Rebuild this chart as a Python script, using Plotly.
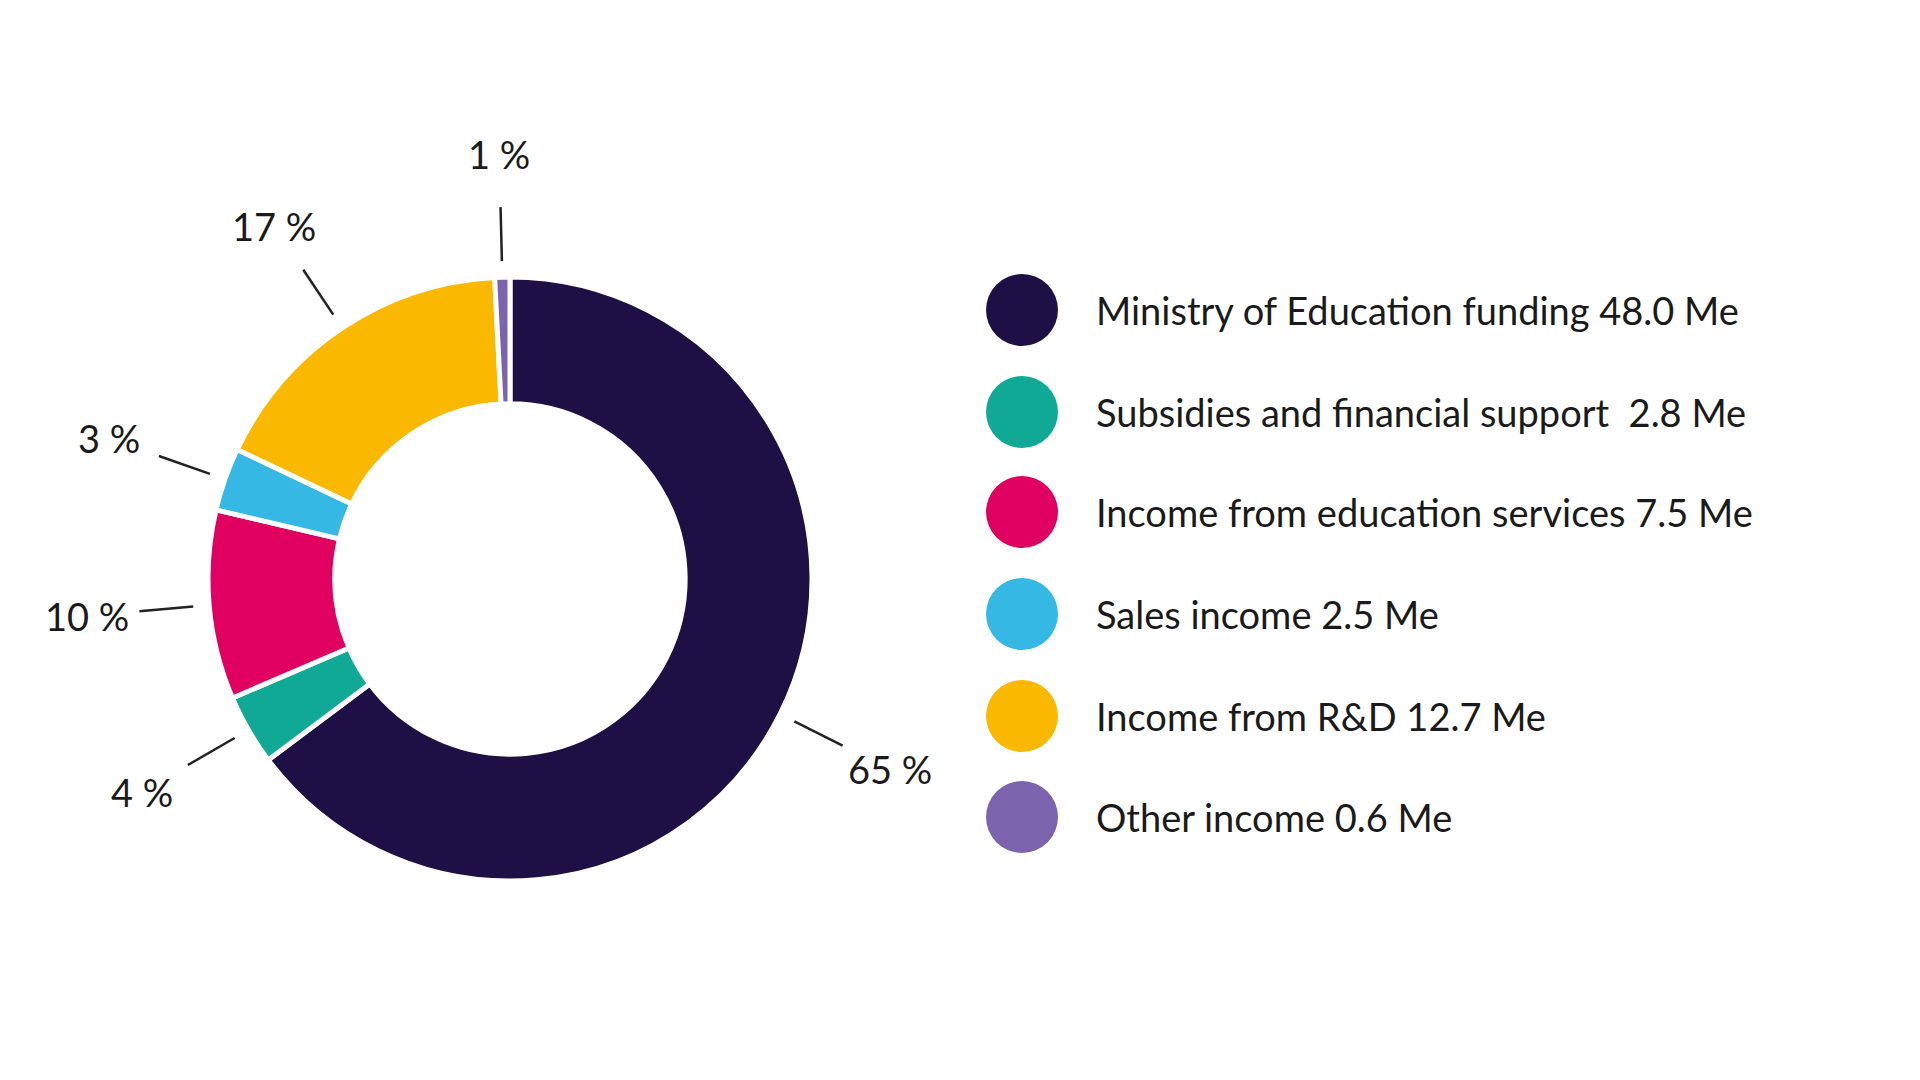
import numpy as np
import plotly.graph_objects as go

categories = ["Ministry of Education funding 48.0 Me",
              "Subsidies and financial support  2.8 Me",
              "Income from education services 7.5 Me",
              "Sales income 2.5 Me",
              "Income from R&D 12.7 Me",
              "Other income 0.6 Me"]
values = [48.0, 2.8, 7.5, 2.5, 12.7, 0.6]
colors = ["#1e0f45", "#0fa996", "#e0005f", "#35b8e4", "#fab800", "#7b64ad"]

W, H = 1920, 1080
cx, cy, R = 502, 509, 302   # donut centre (y from bottom) and radius in px
font = "Lato"

fig = go.Figure()
fig.add_trace(go.Pie(
    values=values, labels=categories, sort=False, direction="clockwise",
    rotation=0, hole=0.58, textinfo="none", hoverinfo="label+percent",
    marker=dict(colors=colors, line=dict(color="white", width=5)),
    domain=dict(x=[(cx - R) / W, (cx + R) / W], y=[(cy - R) / H, (cy + R) / H]),
    showlegend=False,
))

# leader lines and percentage labels derived from slice mid-angles
vals = np.array(values)
frac = vals / vals.sum()
mid = (np.cumsum(frac) - frac / 2) * 2 * np.pi
for f, a in zip(frac, mid):
    s, c = np.sin(a), np.cos(a)
    fig.add_trace(go.Scatter(
        x=[cx + 318 * s, cx + 372 * s], y=[cy + 318 * c, cy + 372 * c],
        mode="lines", line=dict(color="#222", width=2.5),
        xaxis="x2", yaxis="y2", showlegend=False, hoverinfo="skip"))
    fig.add_annotation(x=cx + 425 * s, y=cy + 425 * c, xref="x2", yref="y2",
                       text=f"{round(f * 100)} %", showarrow=False,
                       font=dict(family=font, size=38, color="#1a1a1a"))

# custom legend with round markers
ly = [778, 676, 576, 474, 372, 271]
fig.add_trace(go.Scatter(
    x=[1014] * len(categories), y=ly, mode="markers",
    marker=dict(size=72, color=colors), xaxis="x2", yaxis="y2",
    showlegend=False, hoverinfo="skip"))
for name, y in zip(categories, ly):
    fig.add_annotation(x=1086, y=y, xref="x2", yref="y2", text=name,
                       showarrow=False, xanchor="left",
                       font=dict(family=font, size=38, color="#1a1a1a"))

fig.update_layout(
    width=W, height=H, margin=dict(l=0, r=0, t=0, b=0),
    paper_bgcolor="white", plot_bgcolor="rgba(0,0,0,0)",
    xaxis2=dict(range=[0, W], domain=[0, 1], visible=False, fixedrange=True),
    yaxis2=dict(range=[0, H], domain=[0, 1], visible=False, fixedrange=True),
)
fig.write_html("out.html")
